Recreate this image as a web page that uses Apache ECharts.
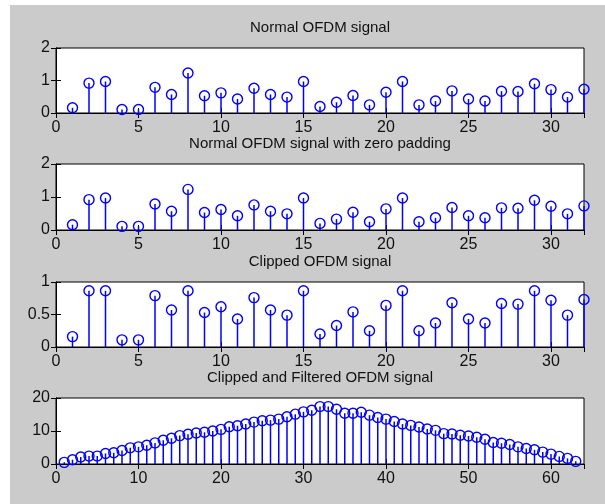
<!DOCTYPE html>
<html>
<head>
<meta charset="utf-8">
<script src="https://cdn.jsdelivr.net/npm/echarts@6/dist/echarts.min.js"></script>
<style>
  body { margin: 0; background: #fff; }
  #bg { position: absolute; left: 10px; top: 5px; right: 0; bottom: 0; background: #cbcbcb; }
  #chart { position: absolute; left: 0; top: 0; width: 605px; height: 504px; }
</style>
</head>
<body>
<div id="bg"></div>
<div id="chart"></div>
<script>
// subplot titles
var titles = [
  "Normal OFDM signal",
  "Normal OFDM signal with zero padding",
  "Clipped OFDM signal",
  "Clipped and Filtered OFDM signal"
];

// samples 1..32
var normalSignal = [0.16, 0.92, 0.97, 0.11, 0.11, 0.79, 0.57, 1.23, 0.53, 0.62, 0.43, 0.76, 0.57, 0.49, 0.97, 0.20,
  0.33, 0.54, 0.25, 0.64, 0.97, 0.25, 0.37, 0.68, 0.43, 0.37, 0.67, 0.66, 0.90, 0.72, 0.49, 0.73];
var paddedSignal = [0.16, 0.92, 0.97, 0.11, 0.11, 0.79, 0.57, 1.23, 0.53, 0.62, 0.43, 0.76, 0.57, 0.49, 0.97, 0.20,
  0.33, 0.54, 0.25, 0.64, 0.97, 0.25, 0.37, 0.68, 0.43, 0.37, 0.67, 0.66, 0.90, 0.72, 0.49, 0.73];
var clippedSignal = [0.16, 0.865, 0.865, 0.11, 0.11, 0.79, 0.57, 0.865, 0.53, 0.62, 0.43, 0.76, 0.57, 0.49, 0.865, 0.20,
  0.33, 0.54, 0.25, 0.64, 0.865, 0.25, 0.37, 0.68, 0.43, 0.37, 0.67, 0.66, 0.865, 0.72, 0.49, 0.73];
// samples 1..63
var filteredSignal = [0.5, 1.3, 2.1, 2.4, 2.4, 3.2, 3.4, 4.1, 4.9, 5.2, 5.7, 6.4, 7.2, 7.8, 8.6, 9.0,
  9.4, 9.6, 10.0, 10.5, 11.3, 11.6, 12.1, 12.7, 13.1, 13.3, 13.6, 14.3, 15.1, 15.8, 16.3, 17.4,
  17.4, 16.6, 15.4, 15.4, 15.7, 14.8, 14.1, 13.6, 12.9, 12.1, 11.7, 11.2, 10.6, 10.2, 9.2, 9.1,
  8.7, 8.5, 8.1, 7.5, 6.5, 6.3, 5.9, 5.2, 4.7, 4.3, 3.6, 3.0, 2.3, 1.7, 0.8];

var signals = [normalSignal, paddedSignal, clippedSignal, filteredSignal];
var xMax = [32, 32, 32, 64];
var xStep = [5, 5, 5, 10];
var yMax = [2, 2, 1, 20];
var yStep = [1, 1, 0.5, 10];

var gridTops = [48, 164, 282, 398];
var gridHeights = [65, 66, 65, 66];
var titleCenters = [29, 145, 263, 379];

var font = "Liberation Sans";
var textColor = "#111";
var blue = "#0000ff";

var chart = echarts.init(document.getElementById("chart"));

var option = {
  backgroundColor: "transparent",
  animation: false,
  title: [],
  grid: [],
  xAxis: [],
  yAxis: [],
  series: []
};

for (var i = 0; i < 4; i++) {
  option.title.push({
    text: titles[i],
    left: 320,
    top: titleCenters[i] - 9,
    textAlign: "center",
    padding: 0,
    textStyle: { fontFamily: font, fontSize: 15, fontWeight: "normal", color: textColor }
  });
  option.grid.push({
    left: 56, width: 528, top: gridTops[i], height: gridHeights[i],
    show: true, backgroundColor: "#fff", borderColor: "#000", borderWidth: 1
  });

  var axisLine = { show: true, lineStyle: { color: "#000", width: 1 } };
  var tick = { show: true, inside: true, length: 5, lineStyle: { color: "#000" } };

  option.xAxis.push({
    type: "value", gridIndex: i, position: "bottom",
    min: 0, max: xMax[i], interval: xStep[i],
    axisLine: axisLine, axisTick: tick, splitLine: { show: false },
    axisLabel: { margin: 7, showMaxLabel: false, fontFamily: font, fontSize: 16, color: textColor }
  });
  option.xAxis.push({
    type: "value", gridIndex: i, position: "top",
    min: 0, max: xMax[i], interval: xStep[i],
    axisLine: axisLine, axisTick: tick, splitLine: { show: false },
    axisLabel: { show: false }
  });
  option.yAxis.push({
    type: "value", gridIndex: i, position: "left",
    min: 0, max: yMax[i], interval: yStep[i],
    axisLine: axisLine, axisTick: tick, splitLine: { show: false },
    axisLabel: { margin: 6, fontFamily: font, fontSize: 16, color: textColor }
  });
  option.yAxis.push({
    type: "value", gridIndex: i, position: "right",
    min: 0, max: yMax[i], interval: yStep[i],
    axisLine: axisLine, axisTick: tick, splitLine: { show: false },
    axisLabel: { show: false }
  });

  var pts = signals[i].map(function (v, k) { return [k + 1, v]; });

  option.series.push({
    type: "bar",
    xAxisIndex: i * 2, yAxisIndex: i * 2,
    barWidth: 1.5,
    itemStyle: { color: blue },
    data: pts
  });
  option.series.push({
    type: "scatter",
    xAxisIndex: i * 2, yAxisIndex: i * 2,
    symbol: "circle",
    symbolSize: 10,
    clip: false,
    itemStyle: { color: "rgba(0,0,0,0)", borderColor: blue, borderWidth: 1.4, opacity: 1 },
    data: pts,
    z: 3
  });
}

chart.setOption(option);
</script>
</body>
</html>
